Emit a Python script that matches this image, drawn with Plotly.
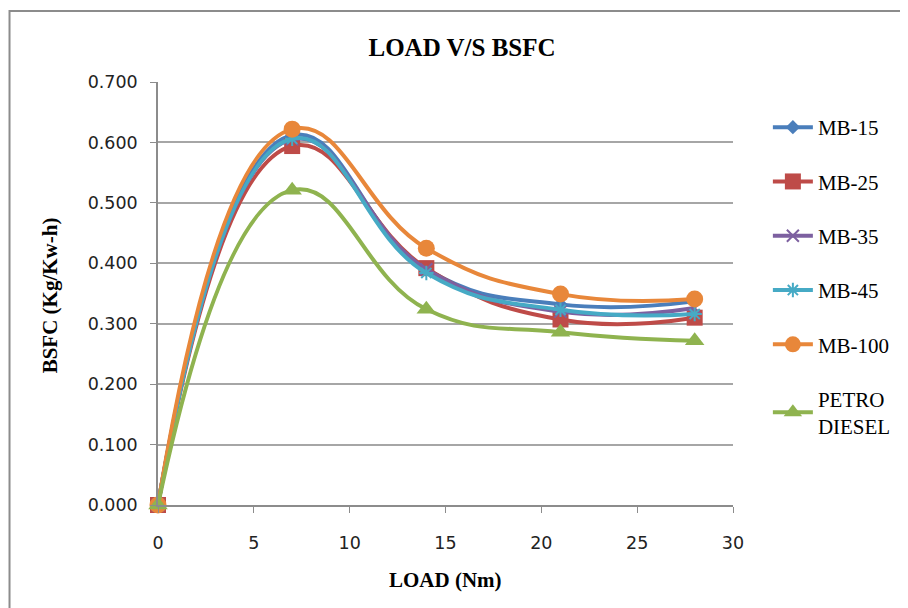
import plotly.graph_objects as go

load = [0, 7, 14, 21, 28]
mb15 = [0.000, 0.612, 0.390, 0.332, 0.337]
mb25 = [0.000, 0.594, 0.392, 0.307, 0.310]
mb35 = [0.000, 0.605, 0.390, 0.320, 0.326]
mb45 = [0.000, 0.606, 0.384, 0.323, 0.316]
mb100 = [0.000, 0.622, 0.425, 0.349, 0.341]
petro = [0.000, 0.521, 0.324, 0.286, 0.272]

names = ["MB-15", "MB-25", "MB-35", "MB-45", "MB-100", "PETRO<br>DIESEL"]
series = [mb15, mb25, mb35, mb45, mb100, petro]
colors = ["#4A7EBB", "#BE4B48", "#7D60A0", "#46AAC5", "#E8873A", "#8FB34F"]
symbols = ["diamond", "square", "x-thin", "asterisk", "circle", "triangle-up"]
sizes = [11, 16, 12, 12, 17, 17]

fig = go.Figure()
for i, (n, s) in enumerate(zip(names, series)):
    mk = dict(symbol=symbols[i], size=sizes[i], color=colors[i])
    if symbols[i] in ("x-thin", "asterisk"):
        mk["line"] = dict(width=2, color=colors[i])
    else:
        mk["line"] = dict(width=0)
    fig.add_trace(go.Scatter(
        x=load, y=s, name=n, mode="lines+markers",
        line=dict(color=colors[i], width=4, shape="spline", smoothing=1.3),
        marker=mk, cliponaxis=False, legendgroup=str(i),
    ))

# page body has an 8px margin; work in screen coordinates
OFF = 8
W, H = 900, 600
L = 158 - OFF
T = 82 - OFF
R = W - (735 - OFF)
B = H - (505 - OFF)
pw, ph = W - L - R, H - T - B

def px(xs):
    return (xs - OFF - L) / pw

def py(ys):
    return (H - B - (ys - OFF)) / ph

fig.update_layout(
    width=W, height=H,
    margin=dict(l=L, r=R, t=T, b=B),
    paper_bgcolor="white", plot_bgcolor="white",
    title=dict(text="<b>LOAD V/S BSFC</b>", x=(462 - OFF) / W, xanchor="center",
               y=1 - (47 - OFF) / H, yanchor="middle",
               font=dict(family="Liberation Serif", size=25, color="black")),
    showlegend=True,
    legend=dict(x=px(770), y=py(107), xanchor="left", yanchor="top",
                font=dict(family="Liberation Serif", size=21, color="black"),
                tracegroupgap=24, traceorder="grouped",
                bgcolor="rgba(0,0,0,0)", itemwidth=40),
    xaxis=dict(range=[0, 30], tickvals=[0, 5, 10, 15, 20, 25, 30],
               showgrid=False, zeroline=False, showline=True,
               linecolor="#8C8C8C", linewidth=1.5,
               ticks="outside", ticklen=6, tickcolor="#8C8C8C",
               ticklabelstandoff=15,
               tickfont=dict(family="DejaVu Sans", size=17.5, color="#222222")),
    yaxis=dict(range=[0, 0.7], tickvals=[0, 0.1, 0.2, 0.3, 0.4, 0.5, 0.6, 0.7],
               tickformat=".3f",
               showgrid=True, gridcolor="#A6A6A6", gridwidth=1.5,
               zeroline=False, showline=True,
               linecolor="#8C8C8C", linewidth=1.5,
               ticks="outside", ticklen=6, tickcolor="#8C8C8C",
               ticklabelstandoff=9,
               tickfont=dict(family="DejaVu Sans", size=17.5, color="#222222")),
    annotations=[
        dict(text="<b>LOAD (Nm)</b>", xref="paper", yref="paper",
             x=px(446), y=py(580), xanchor="center", yanchor="middle",
             showarrow=False,
             font=dict(family="Liberation Serif", size=21, color="black")),
        dict(text="<b>BSFC (Kg/Kw-h)</b>", xref="paper", yref="paper",
             x=px(50), y=py(295), xanchor="center", yanchor="middle",
             textangle=-90, showarrow=False,
             font=dict(family="Liberation Serif", size=21, color="black")),
    ],
    shapes=[
        dict(type="rect", xref="paper", yref="paper",
             x0=px(9), x1=px(930), y0=py(630), y1=py(11),
             line=dict(color="#8C8C8C", width=2), layer="below"),
    ],
)

fig.write_html("out.html")
